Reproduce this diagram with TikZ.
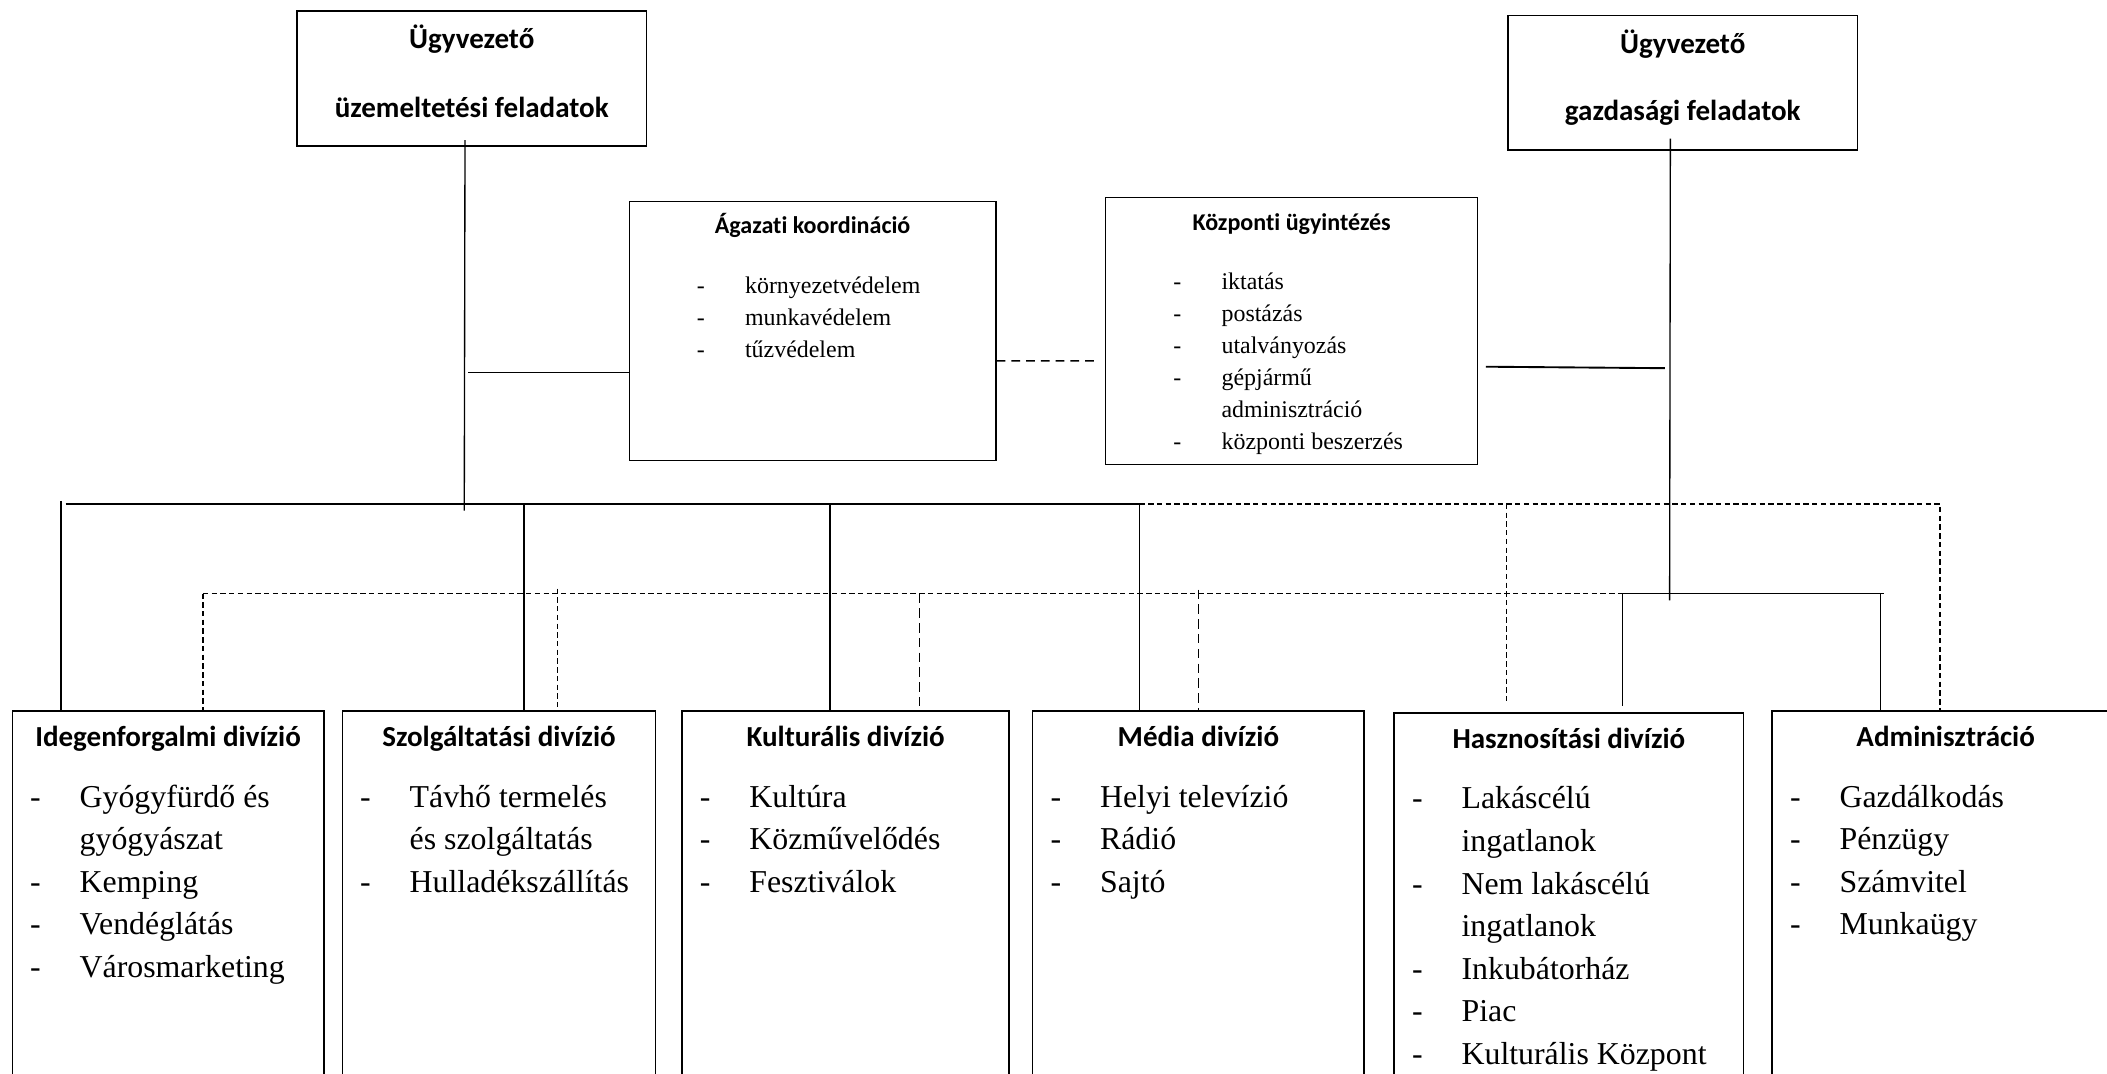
\documentclass[tikz,border=0pt]{standalone}
\usepackage{fontspec}
\setmainfont{Liberation Serif}
\newfontfamily\calib[Ligatures=NoCommon]{Carlito}
\usetikzlibrary{positioning,calc}

\newcommand{\bigtitle}{\calib\bfseries\fontsize{21.6}{26}\selectfont}
\newcommand{\midtitle}{\calib\bfseries\fontsize{17.9}{22}\selectfont}
\newcommand{\bigitems}[1]{\fontsize{23.7}{31.7}\selectfont
  \begin{tabular}[t]{@{}p{36.9pt}@{}l@{}}#1\end{tabular}}
\newcommand{\miditems}[1]{\fontsize{17.8}{23.8}\selectfont
  \begin{tabular}[t]{@{}p{35.9pt}@{}l@{}}#1\end{tabular}}

\begin{document}
\begin{tikzpicture}[x=1pt, y=-1pt, inner sep=0pt,
  box/.style={draw, line width=1.1pt, anchor=north west},
  conn/.style={line width=1pt},
  dconn/.style={line width=0.9pt, dash pattern=on 4pt off 2.5pt},
  ddconn/.style={line width=1.1pt, dash pattern=on 7pt off 4pt}]
  \useasboundingbox (0,0) rectangle (1568,799);
  \clip (0,0) rectangle (1568,799);

  % top: the two managers
  \node[box, minimum width=259.8pt, minimum height=100.4pt] (ugyU) at (220.6,7.7) {};
  \node[anchor=base, font=\bigtitle] (ugyU1) at ([yshift=-28.2pt]ugyU.north) {Ügyvezető};
  \node[anchor=base, font=\bigtitle] (ugyU2) at ([yshift=-79.5pt]ugyU.north) {üzemeltetési feladatok};
  \node[box, minimum width=260pt, minimum height=100pt] (ugyG) at (1121.7,11.1) {};
  \node[anchor=base, font=\bigtitle] (ugyG1) at ([yshift=-28.4pt]ugyG.north) {Ügyvezető};
  \node[anchor=base, font=\bigtitle] (ugyG2) at ([yshift=-78.9pt]ugyG.north) {gazdasági feladatok};

  % middle: staff units
  \node[box, minimum width=272.7pt, minimum height=192.8pt] (agaz) at (467.8,149.5) {};
  \node[anchor=base, font=\midtitle] (agazT) at ([yshift=-24.1pt]agaz.north) {Ágazati koordináció};
  \node[anchor=base west] (agazL) at ([xshift=50.6pt,yshift=-68.8pt]agaz.north west)
    {\miditems{- & környezetvédelem\\ - & munkavédelem\\ - & tűzvédelem}};
  \node[box, minimum width=276.7pt, minimum height=198.9pt] (kozp) at (822.3,146.4) {};
  \node[anchor=base, font=\midtitle] (kozpT) at ([yshift=-24.8pt]kozp.north) {Központi ügyintézés};
  \node[anchor=base west] (kozpL) at ([xshift=50.7pt,yshift=-69.4pt]kozp.north west)
    {\miditems{- & iktatás\\ - & postázás\\ - & utalványozás\\ - & gépjármű\\ & adminisztráció\\ - & központi beszerzés}};

  % bottom: divisions
  \node[box, minimum width=231.9pt, minimum height=300pt] (ideg) at (8.6,528.4) {};
  \node[anchor=base, font=\bigtitle] (idegT) at ([yshift=-27.2pt]ideg.north) {Idegenforgalmi divízió};
  \node[anchor=base west] (idegL) at ([xshift=13.6pt,yshift=-72.3pt]ideg.north west)
    {\bigitems{- & Gyógyfürdő és\\ & gyógyászat\\ - & Kemping\\ - & Vendéglátás\\ - & Városmarketing}};

  \node[box, minimum width=233.2pt, minimum height=300pt] (szolg) at (254.2,528.4) {};
  \node[anchor=base, font=\bigtitle] (szolgT) at ([yshift=-27.2pt]szolg.north) {Szolgáltatási divízió};
  \node[anchor=base west] (szolgL) at ([xshift=13.6pt,yshift=-72.3pt]szolg.north west)
    {\bigitems{- & Távhő termelés\\ & és szolgáltatás\\ - & Hulladékszállítás}};

  \node[box, minimum width=243.5pt, minimum height=300pt] (kult) at (507,528.4) {};
  \node[anchor=base, font=\bigtitle] (kultT) at ([yshift=-27.2pt]kult.north) {Kulturális divízió};
  \node[anchor=base west] (kultL) at ([xshift=13.6pt,yshift=-72.3pt]kult.north west)
    {\bigitems{- & Kultúra\\ - & Közművelődés\\ - & Fesztiválok}};

  \node[box, minimum width=246.5pt, minimum height=300pt] (media) at (768,528.4) {};
  \node[anchor=base, font=\bigtitle] (mediaT) at ([yshift=-27.2pt]media.north) {Média divízió};
  \node[anchor=base west] (mediaL) at ([xshift=13.6pt,yshift=-72.3pt]media.north west)
    {\bigitems{- & Helyi televízió\\ - & Rádió\\ - & Sajtó}};

  \node[box, minimum width=260pt, minimum height=300pt] (hasz) at (1037,530) {};
  \node[anchor=base, font=\bigtitle] (haszT) at ([yshift=-27pt]hasz.north) {Hasznosítási divízió};
  \node[anchor=base west] (haszL) at ([xshift=13.6pt,yshift=-72pt]hasz.north west)
    {\bigitems{- & Lakáscélú\\ & ingatlanok\\ - & Nem lakáscélú\\ & ingatlanok\\ - & Inkubátorház\\ - & Piac\\ - & Kulturális Központ}};

  \node[box, minimum width=258.2pt, minimum height=300pt] (admin) at (1318.3,528.4) {};
  \node[anchor=base, font=\bigtitle] (adminT) at ([yshift=-27.2pt]admin.north) {Adminisztráció};
  \node[anchor=base west] (adminL) at ([xshift=13.6pt,yshift=-72.3pt]admin.north west)
    {\bigitems{- & Gazdálkodás\\ - & Pénzügy\\ - & Számvitel\\ - & Munkaügy}};

  % junctions
  \coordinate (uJ) at (345.5,380);
  \coordinate (aJ) at (348,277);
  \coordinate (bL) at (48.8,375);
  \coordinate (tIdeg) at (45.3,372.7);
  \coordinate (tSzolg) at (390,375);
  \coordinate (tKult) at (617.4,375);
  \coordinate (tMedia) at (848,375);
  \coordinate (tHasz) at (1121.3,375);
  \coordinate (dCorner) at (1443.7,375);
  \coordinate (dIdeg) at (151,441.7);
  \coordinate (dSzolg) at (415,438);
  \coordinate (dKult) at (684.3,441.7);
  \coordinate (dMedia) at (892,438.8);
  \coordinate (dEnd) at (1215,441.7);
  \coordinate (gJ) at (1242.5,446.7);
  \coordinate (gK) at (1239,274);
  \coordinate (gL) at (1207,441.7);
  \coordinate (gR) at (1402,441.7);
  \coordinate (gHasz) at (1207.6,441.7);
  \coordinate (gAdmin) at (1399.3,441.7);

  % solid lines, operations side
  \draw[conn] ([xshift=-5pt,yshift=5pt]ugyU.south) -- (uJ);
  \draw[conn] (agaz.west |- aJ) -- (aJ);
  \draw[conn] (bL) -- (tMedia);
  \draw[conn] (tIdeg) -- (tIdeg |- ideg.north);
  \draw[conn] (tSzolg) -- (tSzolg |- szolg.north);
  \draw[conn, line width=1.3pt] (tKult) -- (tKult |- kult.north);
  \draw[conn, line width=1.3pt] (tMedia) -- (tMedia |- media.north);

  % solid lines, economic side
  \draw[conn] ([xshift=-9.2pt,yshift=9pt]ugyG.south) -- (gJ);
  \draw[conn, line width=1.4pt] ([xshift=5.6pt,yshift=-26.5pt]kozp.east) -- (gK);
  \draw[conn] (gL) -- (gR);
  \draw[conn] (gHasz) -- ($(gHasz |- hasz.north)+(0,-4.5)$);
  \draw[conn] (gAdmin) -- (gAdmin |- admin.north);

  % dashed lines
  \draw[dconn, line width=1.1pt, dash pattern=on 6.5pt off 4.5pt] ([yshift=-22.1pt]agaz.east) -- ([xshift=-5pt,yshift=-22.1pt]kozp.west);
  \draw[dconn] (tMedia) -- (dCorner) -- (dCorner |- admin.north);
  \draw[dconn] (tHasz) -- ($(tHasz |- hasz.north)+(0,-7)$);
  \draw[dconn] (dIdeg) -- (dEnd);
  \draw[dconn] (dIdeg) -- (dIdeg |- ideg.north);
  \draw[dconn] (dSzolg) -- (dSzolg |- szolg.north);
  \draw[ddconn] (dKult) -- (dKult |- kult.north);
  \draw[ddconn] (dMedia) -- (dMedia |- media.north);
\end{tikzpicture}
\end{document}
